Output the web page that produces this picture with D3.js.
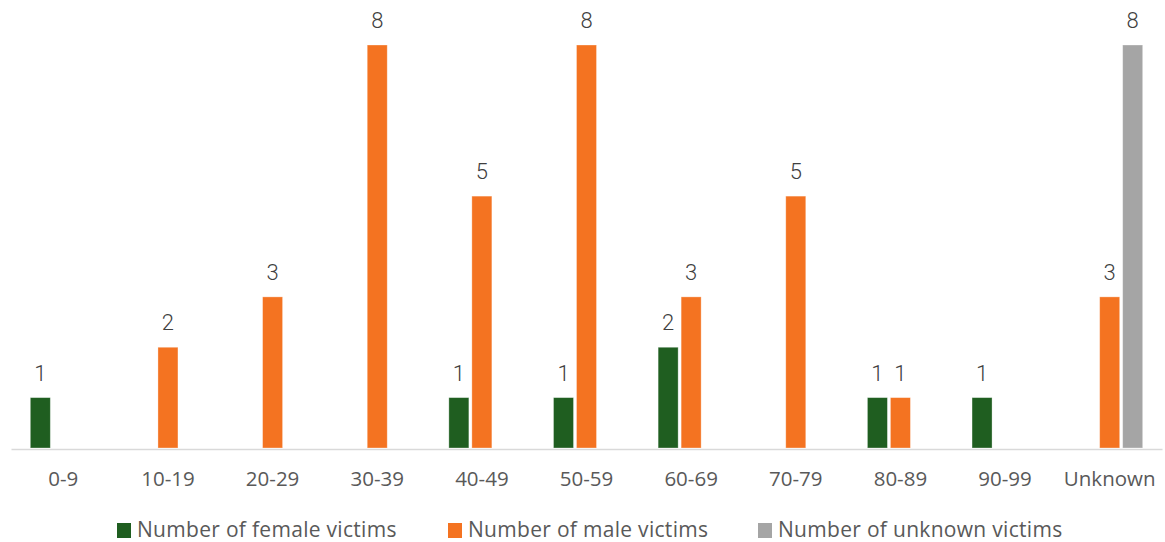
<!DOCTYPE html>
<html><head><meta charset="utf-8">
<script src="https://cdn.jsdelivr.net/npm/d3@7"></script>
<style>body{margin:0;background:#fff}svg{display:block}</style>
</head><body>
<svg id="c" width="1165" height="542"></svg>
<script>
const categories = ["0-9","10-19","20-29","30-39","40-49","50-59","60-69","70-79","80-89","90-99","Unknown"];
const seriesNames = ["Number of female victims","Number of male victims","Number of unknown victims"];
const female = [1,0,0,0,1,1,2,0,1,1,0];
const male = [0,2,3,8,5,8,3,5,1,0,3];
const unknown = [0,0,0,0,0,0,0,0,0,0,8];
const colors = ["#1f5e20","#f47321","#a5a5a5"];

const svg = d3.select("#c");
const seriesVals = [female, male, unknown];
const x0 = d3.scaleBand().domain(categories).range([11, 1162]);
const bw = 20, gap = 3;
const y = d3.scaleLinear().domain([0, 8]).range([448, 45]);

const g = svg.append("g");
categories.forEach((c, i) => {
  const cx = x0(c) + x0.bandwidth() / 2;
  seriesVals.forEach((vals, s) => {
    const v = vals[i];
    if (!v) return;
    const bx = cx + (s - 1) * (bw + gap) - bw / 2;
    g.append("rect").attr("x", bx).attr("y", y(v)).attr("width", bw).attr("height", y(0) - y(v))
      .attr("fill", colors[s]).attr("stroke", "#fff").attr("stroke-opacity", 0.4).attr("stroke-width", 0.8);
    g.append("text").attr("x", bx + bw / 2).attr("y", y(v) - 17).attr("text-anchor", "middle")
      .attr("font-family", "Roboto, sans-serif").attr("font-weight", 300).attr("font-size", 22).attr("fill", "#404040").text(v);
  });
});

// axis
const ax = svg.append("g").attr("transform", "translate(0,449)").call(d3.axisBottom(x0).tickSize(0).tickPadding(0));
ax.select(".domain").attr("stroke", "#d9d9d9").attr("stroke-width", 1.5);
ax.selectAll("text").attr("font-family", "'Open Sans', sans-serif").attr("font-size", 20.5).attr("fill", "#595959").attr("dy", 0).attr("y", 37);

// legend
const legX = [117, 448, 758];
const leg = svg.append("g");
seriesNames.forEach((n, s) => {
  leg.append("rect").attr("x", legX[s]).attr("y", 523).attr("width", 14).attr("height", 15).attr("fill", colors[s]);
  leg.append("text").attr("x", legX[s] + 20).attr("y", 537).attr("font-family", "'Open Sans', sans-serif")
    .attr("font-size", 21).attr("letter-spacing", 0.3).attr("fill", "#595959").text(n);
});
</script>
</body></html>
